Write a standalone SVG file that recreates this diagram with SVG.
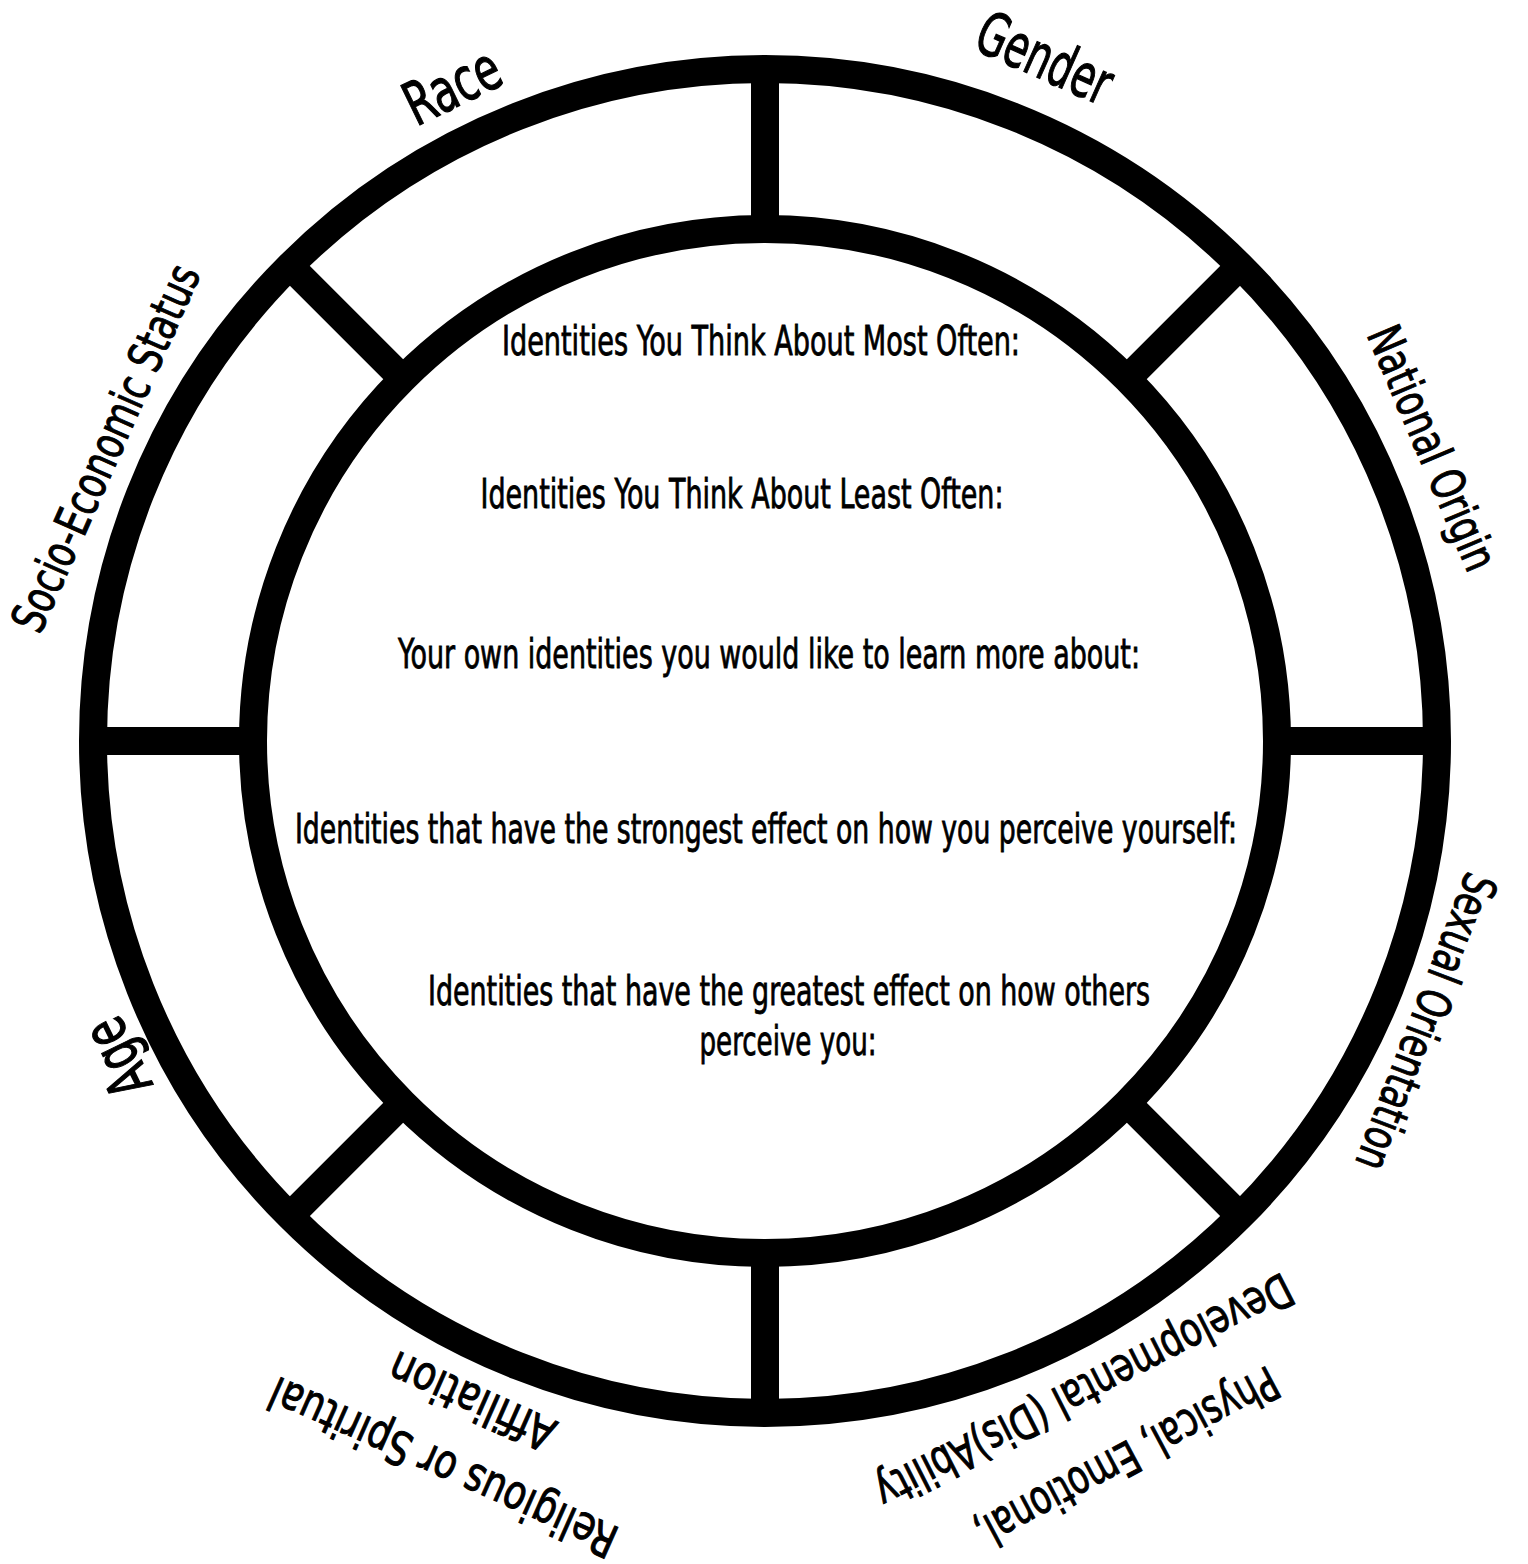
<svg xmlns="http://www.w3.org/2000/svg" width="1528" height="1564" viewBox="0 0 1528 1564">
  <style>
    .ring { fill: none; stroke: #000; stroke-width: 28; }
    .div { stroke: #000; stroke-width: 28; stroke-linecap: butt; }
    text { font-family: "Liberation Sans Narrow", "DejaVu Sans Condensed", "Liberation Sans", sans-serif; fill: #000; stroke: #000; }
    .q { font-size: 40px; text-anchor: middle; stroke-width: 0.8; }
    .lbl { font-size: 47px; text-anchor: middle; stroke-width: 1; }
    .big { font-size: 60px; text-anchor: middle; stroke-width: 1.2; }
  </style>
  <rect width="1528" height="1564" fill="#fff"/>
  <g id="wheel">
    <circle id="outer-ring" class="ring" cx="765" cy="741" r="672"/>
    <circle id="inner-circle" class="ring" cx="765" cy="741" r="512"/>
  </g>
  <g id="connectors">
    <line class="div" x1="765" y1="69" x2="765" y2="229"/>
    <line class="div" x1="765" y1="1253" x2="765" y2="1413"/>
    <line class="div" x1="93" y1="741" x2="253" y2="741"/>
    <line class="div" x1="1277" y1="741" x2="1437" y2="741"/>
    <line class="div" x1="290" y1="266" x2="403" y2="379"/>
    <line class="div" x1="1240" y1="266" x2="1127" y2="379"/>
    <line class="div" x1="290" y1="1216" x2="403" y2="1103"/>
    <line class="div" x1="1240" y1="1216" x2="1127" y2="1103"/>
  </g>
  <g id="questions">
    <text id="q1" class="q" x="761" y="355" textLength="518" lengthAdjust="spacingAndGlyphs">Identities You Think About Most Often:</text>
    <text id="q2" class="q" x="742" y="508" textLength="523" lengthAdjust="spacingAndGlyphs">Identities You Think About Least Often:</text>
    <text id="q3" class="q" x="769" y="668" textLength="742" lengthAdjust="spacingAndGlyphs">Your own identities you would like to learn more about:</text>
    <text id="q4" class="q" x="766" y="843" textLength="942" lengthAdjust="spacingAndGlyphs">Identities that have the strongest effect on how you perceive yourself:</text>
    <text id="q5" class="q" x="789" y="1005" textLength="722" lengthAdjust="spacingAndGlyphs">Identities that have the greatest effect on how others</text>
    <text id="q6" class="q" x="788" y="1055" textLength="177" lengthAdjust="spacingAndGlyphs">perceive you:</text>
  </g>
  <g id="label-race" transform="translate(452,86) rotate(-26)">
    <text class="big" x="0" y="21" textLength="100" lengthAdjust="spacingAndGlyphs">Race</text>
  </g>
  <g id="label-gender" transform="translate(1045,58) rotate(24)">
    <text class="big" x="0" y="21" textLength="142" lengthAdjust="spacingAndGlyphs">Gender</text>
  </g>
  <g id="label-ses" transform="translate(106,448) rotate(-66)">
    <text class="lbl" x="0" y="16" textLength="396" lengthAdjust="spacingAndGlyphs">Socio-Economic Status</text>
  </g>
  <g id="label-national" transform="translate(1432,448) rotate(67)">
    <text class="lbl" x="0" y="16" textLength="261" lengthAdjust="spacingAndGlyphs">National Origin</text>
  </g>
  <g id="label-sexual" transform="translate(1426,1022) rotate(111)">
    <text class="lbl" x="0" y="16" textLength="314" lengthAdjust="spacingAndGlyphs">Sexual Orientation</text>
  </g>
  <g id="label-age" transform="translate(117,1058) rotate(-116)">
    <text class="big" x="0" y="21" textLength="80" lengthAdjust="spacingAndGlyphs">Age</text>
  </g>
  <g id="label-religious">
    <text class="lbl" transform="translate(443,1467) rotate(204)" x="0" y="16" textLength="376" lengthAdjust="spacingAndGlyphs">Religious or Spiritual</text>
    <text class="lbl" transform="translate(472,1401) rotate(204)" x="0" y="16" textLength="177" lengthAdjust="spacingAndGlyphs">Affiliation</text>
  </g>
  <g id="label-ability">
    <text class="lbl" transform="translate(1127,1458) rotate(152)" x="0" y="16" textLength="336" lengthAdjust="spacingAndGlyphs">Physical, Emotional,</text>
    <text class="lbl" transform="translate(1084,1391) rotate(153)" x="0" y="16" textLength="462" lengthAdjust="spacingAndGlyphs">Developmental (Dis)Ability</text>
  </g>
</svg>
